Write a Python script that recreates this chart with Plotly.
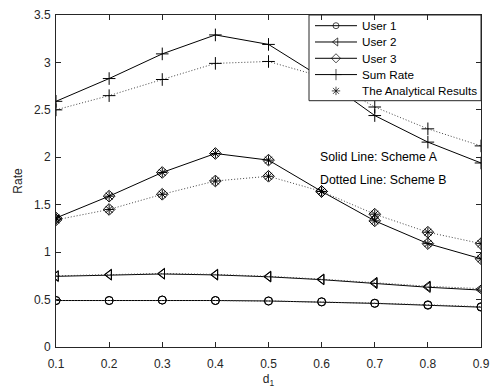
import plotly.graph_objects as go

d1 = [0.1, 0.2, 0.3, 0.4, 0.5, 0.6, 0.7, 0.8, 0.9]

user1_a = [0.49, 0.49, 0.495, 0.49, 0.485, 0.475, 0.46, 0.44, 0.42]
user1_b = [0.49, 0.49, 0.495, 0.49, 0.485, 0.477, 0.462, 0.445, 0.425]
user2_a = [0.745, 0.76, 0.77, 0.76, 0.74, 0.71, 0.67, 0.63, 0.60]
user2_b = [0.75, 0.765, 0.775, 0.765, 0.745, 0.715, 0.68, 0.64, 0.615]
user3_a = [1.36, 1.59, 1.84, 2.04, 1.97, 1.64, 1.33, 1.09, 0.93]
user3_b = [1.34, 1.45, 1.61, 1.75, 1.80, 1.64, 1.40, 1.21, 1.09]
sum_a = [2.59, 2.83, 3.09, 3.29, 3.19, 2.84, 2.44, 2.16, 1.94]
sum_b = [2.50, 2.65, 2.82, 2.99, 3.01, 2.85, 2.53, 2.30, 2.12]

x_ticks = [0.1, 0.2, 0.3, 0.4, 0.5, 0.6, 0.7, 0.8, 0.9]
y_ticks = [0, 0.5, 1, 1.5, 2, 2.5, 3, 3.5]
y_tick_labels = ["0", "0.5", "1", "1.5", "2", "2.5", "3", "3.5"]

legend_names = ["User 1", "User 2", "User 3", "Sum Rate", "The Analytical Results"]
legend_symbols = ["circle-open", "triangle-left-open", "diamond-open", "cross-thin-open", "asterisk-open"]
legend_has_line = [True, True, True, True, False]

FONT = "Liberation Sans, Arial, sans-serif"
AX = "#262626"
fig = go.Figure()

def add(y, name, symbol, dash, size=8):
    fig.add_trace(go.Scatter(
        x=d1, y=y, name=name, mode="lines+markers", showlegend=False,
        line=dict(color="black" if dash == "solid" else "#444444", width=1,
                  dash="solid" if dash == "solid" else "1px,2px"),
        marker=dict(symbol=symbol, size=size, color="black",
                    line=dict(color="black", width=1)),
    ))

add(user1_a, "User 1", "circle-open", "solid", 8)
add(user2_a, "User 2", "triangle-left-open", "solid", 9)
add(user3_a, "User 3", "diamond-open", "solid", 9)
add(sum_a, "Sum Rate", "cross-thin-open", "solid", 9)
add(user1_b, "User 1 B", "circle-open", "dot", 8)
add(user2_b, "User 2 B", "triangle-left-open", "dot", 9)
add(user3_b, "User 3 B", "diamond-open", "dot", 9)
add(sum_b, "Sum Rate B", "cross-thin-open", "dot", 9)

fig.add_trace(go.Scatter(
    x=d1 + d1, y=user3_a + user3_b, mode="markers", name="The Analytical Results",
    showlegend=False,
    marker=dict(symbol="asterisk-open", size=8, color="black",
                line=dict(color="black", width=1)),
))

# ---- manual legend (MATLAB style) drawn on an overlay axis spanning the plot area ----
bx0, bx1, by0, by1 = 0.5953, 1.0, 0.7419, 1.0
row_y = [0.9678, 0.9187, 0.8696, 0.8205, 0.7714]
lx0, lxm, lx1, tx = 0.6094, 0.6588, 0.7082, 0.7153

fig.add_trace(go.Scatter(
    x=[bx0, bx1, bx1, bx0, bx0], y=[by0, by0, by1, by1, by0], xaxis="x2", yaxis="y2",
    mode="lines", fill="toself", fillcolor="white", line=dict(color=AX, width=1),
    showlegend=False, hoverinfo="skip", cliponaxis=False,
))
seg_x, seg_y = [], []
for yy, has in zip(row_y, legend_has_line):
    if has:
        seg_x += [lx0, lx1, None]
        seg_y += [yy, yy, None]
fig.add_trace(go.Scatter(
    x=seg_x, y=seg_y, xaxis="x2", yaxis="y2", mode="lines",
    line=dict(color="black", width=1), showlegend=False, hoverinfo="skip", cliponaxis=False,
))
fig.add_trace(go.Scatter(
    x=[lxm] * len(row_y), y=row_y, xaxis="x2", yaxis="y2", mode="markers",
    marker=dict(symbol=legend_symbols, size=[6, 7, 7, 8, 7], color="black",
                line=dict(color="black", width=1)),
    showlegend=False, hoverinfo="skip", cliponaxis=False,
))
for name, yy in zip(legend_names, row_y):
    fig.add_annotation(x=tx, y=yy, xref="x2", yref="y2", text=name, showarrow=False,
                       xanchor="left", yanchor="middle",
                       font=dict(size=11.7, color="black", family=FONT))

fig.add_annotation(x=0.594, y=2.0, text="Solid Line: Scheme A", showarrow=False,
                   xanchor="left", yanchor="middle", font=dict(size=12.3, color="black", family=FONT))
fig.add_annotation(x=0.594, y=1.76, text="Dotted Line: Scheme B", showarrow=False,
                   xanchor="left", yanchor="middle", font=dict(size=12.3, color="black", family=FONT))

axis_common = dict(showline=True, linecolor=AX, linewidth=1, mirror="allticks",
                   ticks="inside", ticklen=5, tickcolor=AX, showgrid=False, automargin=False,
                   zeroline=False, tickfont=dict(size=12, color=AX, family=FONT))

fig.update_xaxes(range=[0.1, 0.9], tickvals=x_ticks, ticktext=[str(v) for v in x_ticks],
                 ticklabelstandoff=6,
                 title=dict(text="d<sub>1</sub>", font=dict(size=12, color=AX, family=FONT), standoff=4),
                 **axis_common)
fig.update_yaxes(range=[0, 3.5], tickvals=y_ticks, ticktext=y_tick_labels,
                 ticklabelstandoff=2,
                 title=dict(text="Rate", font=dict(size=12, color=AX, family=FONT), standoff=8),
                 **axis_common)

fig.update_layout(
    width=493, height=389, autosize=False,
    margin=dict(l=56, r=12, t=15, b=42),
    plot_bgcolor="white", paper_bgcolor="white",
    font=dict(family=FONT, color="black"),
    showlegend=False,
    xaxis2=dict(overlaying="x", anchor="y2", range=[0, 1], visible=False, fixedrange=True, automargin=False),
    yaxis2=dict(overlaying="y", anchor="x2", range=[0, 1], visible=False, fixedrange=True, automargin=False),
)

fig.write_html("out.html", config={"displayModeBar": False, "responsive": False},
               post_script="document.body.style.margin='0';document.body.style.overflow='hidden';")
